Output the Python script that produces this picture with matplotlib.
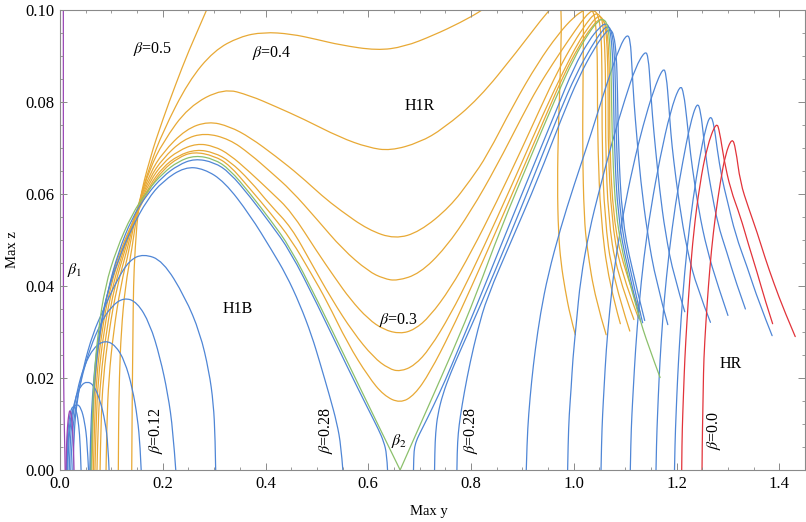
import matplotlib
matplotlib.use('Agg')
import matplotlib.pyplot as plt
from matplotlib.path import Path
from matplotlib.patches import PathPatch
from matplotlib.ticker import MultipleLocator, FormatStrFormatter

plt.rcParams['font.family'] = ['Liberation Serif', 'DejaVu Serif']
plt.rcParams['mathtext.fontset'] = 'stix'

# ---------------- data ----------------
x_ticks = [0.0, 0.2, 0.4, 0.6, 0.8, 1.0, 1.2, 1.4]
y_ticks = [0.00, 0.02, 0.04, 0.06, 0.08, 0.10]

purple_line = [(0.0065, 0.1), (0.0065, 0.06), (0.0067, 0.03), (0.0072, 0.018), (0.0082, 0.01), (0.0095, 0.004), (0.0100, 0.0)]
purple_arch = [(0.0115, 0.0), (0.0125, 0.005), (0.0145, 0.0095), (0.0172, 0.0123), (0.0195, 0.0131), (0.0222, 0.0120), (0.0248, 0.0085), (0.0265, 0.0045), (0.0273, 0.0)]

blue_b1 = [(0.0125, 0), (0.0135, 0.005), (0.016, 0.0095), (0.0205, 0.013), (0.0265, 0.014), (0.032, 0.013), (0.0365, 0.0098), (0.0395, 0.0055), (0.041, 0)]
blue_b1b = [(0.0135, 0), (0.015, 0.0055), (0.019, 0.0104), (0.025, 0.0135), (0.033, 0.0144), (0.041, 0.0135), (0.048, 0.0105), (0.053, 0.006), (0.0555, 0)]
blue_b2 = [(0.015, 0), (0.0165, 0.006), (0.021, 0.0105), (0.029, 0.0154), (0.040, 0.0184), (0.0532, 0.0193), (0.066, 0.0184), (0.078, 0.0152), (0.088, 0.0105), (0.0935, 0.0055), (0.0955, 0)]
blue_b3 = [(0.018, 0), (0.0195, 0.006), (0.024, 0.0112), (0.033, 0.0172), (0.047, 0.0227), (0.066, 0.0267), (0.0876, 0.0282), (0.108, 0.0271), (0.126, 0.0237), (0.141, 0.0178), (0.151, 0.0112), (0.156, 0.0052), (0.158, 0)]
blue_b4 = [(0.021, 0), (0.023, 0.007), (0.029, 0.0128), (0.04, 0.0192), (0.058, 0.0264), (0.08, 0.0321), (0.1, 0.0356), (0.1246, 0.0375), (0.15, 0.0365), (0.175, 0.0318), (0.1947, 0.0245), (0.21, 0.0165), (0.22, 0.0085), (0.2253, 0)]
blue_b5 = [(0.025, 0), (0.027, 0.008), (0.033, 0.015), (0.045, 0.0222), (0.064, 0.0297), (0.0843, 0.0348), (0.11, 0.0411), (0.135, 0.0456), (0.1623, 0.047), (0.2, 0.0455), (0.2434, 0.0376), (0.2726, 0.0298), (0.29, 0.0215), (0.2986, 0.0145), (0.302, 0.007), (0.303, 0)]
blue_b028 = [(0.058, 0), (0.0595, 0.008), (0.063, 0.016), (0.069, 0.024), (0.078, 0.031), (0.09, 0.0378), (0.1136, 0.0458), (0.14, 0.0527), (0.17, 0.0588), (0.2, 0.0628), (0.243, 0.0659), (0.28, 0.0655), (0.32, 0.0627), (0.37, 0.0554), (0.412, 0.0478), (0.44, 0.0425), (0.467, 0.036), (0.49, 0.0292), (0.506, 0.0233), (0.525, 0.016), (0.539, 0.0102), (0.547, 0.0052), (0.5505, 0)]
blue_under = [(0.0595, 0), (0.061, 0.008), (0.065, 0.016), (0.071, 0.024), (0.08, 0.0315), (0.093, 0.039), (0.113, 0.0472), (0.14, 0.0548), (0.17, 0.0600), (0.2, 0.0638), (0.23, 0.0663), (0.262, 0.0677), (0.3, 0.0669), (0.33, 0.0647), (0.37, 0.0594), (0.41, 0.0535), (0.448, 0.0476), (0.5, 0.0362), (0.56, 0.0222), (0.6, 0.0132), (0.62, 0.0088), (0.63, 0.0062), (0.636, 0.0035), (0.6375, 0)]

blue_r1 = [(0.688, 0), (0.6885, 0.003), (0.690, 0.005), (0.695, 0.0068), (0.705, 0.009), (0.725, 0.0135), (0.75, 0.0195), (0.775, 0.0262), (0.81, 0.0355), (0.86, 0.0493), (0.91, 0.063), (0.967, 0.0785), (1.0, 0.0875), (1.03, 0.0935), (1.05, 0.0962), (1.062, 0.0972), (1.07, 0.0962), (1.075, 0.0915), (1.077, 0.085), (1.079, 0.0698), (1.086, 0.055), (1.103, 0.0445), (1.13, 0.0323)]
blue_r2 = [(0.729, 0), (0.7295, 0.004), (0.731, 0.008), (0.735, 0.012), (0.745, 0.0165), (0.76, 0.021), (0.78, 0.0262), (0.82, 0.0362), (0.87, 0.0495), (0.92, 0.0632), (0.971, 0.0775), (1.005, 0.0862), (1.035, 0.0922), (1.055, 0.0955), (1.066, 0.0966), (1.074, 0.0955), (1.079, 0.0908), (1.081, 0.084), (1.083, 0.0698), (1.09, 0.055), (1.107, 0.0445), (1.134, 0.032)]
blue_r3 = [(0.7725, 0), (0.773, 0.004), (0.775, 0.008), (0.779, 0.0116), (0.787, 0.017), (0.798, 0.0233), (0.813, 0.0305), (0.831, 0.0375), (0.88, 0.0502), (0.93, 0.0632), (0.978, 0.077), (1.01, 0.0855), (1.04, 0.0917), (1.06, 0.0949), (1.07, 0.0959), (1.078, 0.0948), (1.083, 0.09), (1.085, 0.083), (1.087, 0.0698), (1.094, 0.055), (1.111, 0.0445), (1.138, 0.0325)]
blue_s1 = [(0.9075, 0), (0.909, 0.006), (0.912, 0.012), (0.918, 0.0195), (0.925, 0.0262), (0.935, 0.034), (0.95, 0.0425), (0.974, 0.0525), (1.0, 0.0618), (1.035, 0.0735), (1.065, 0.0843), (1.09, 0.0922), (1.104, 0.0948), (1.11, 0.0935), (1.113, 0.088), (1.117, 0.08), (1.123, 0.072), (1.13, 0.063), (1.143, 0.0516), (1.16, 0.041), (1.183, 0.0316)]
blue_s2 = [(0.988, 0), (0.989, 0.006), (0.991, 0.012), (0.995, 0.018), (0.998, 0.024), (1.005, 0.032), (1.013, 0.0414), (1.03, 0.052), (1.05, 0.061), (1.075, 0.0715), (1.1, 0.0808), (1.12, 0.0875), (1.139, 0.0912), (1.145, 0.0898), (1.149, 0.0836), (1.153, 0.077), (1.159, 0.0698), (1.167, 0.061), (1.178, 0.0516), (1.195, 0.042), (1.216, 0.0344)]
blue_s3 = [(1.053, 0), (1.054, 0.006), (1.056, 0.012), (1.059, 0.018), (1.063, 0.026), (1.07, 0.035), (1.08, 0.045), (1.095, 0.055), (1.115, 0.066), (1.135, 0.075), (1.155, 0.0825), (1.174, 0.0876), (1.18, 0.086), (1.185, 0.0792), (1.189, 0.073), (1.194, 0.0676), (1.205, 0.058), (1.22, 0.048), (1.24, 0.0395), (1.266, 0.0321)]
blue_s4 = [(1.11, 0), (1.111, 0.006), (1.113, 0.012), (1.116, 0.018), (1.12, 0.026), (1.127, 0.036), (1.136, 0.046), (1.15, 0.057), (1.168, 0.068), (1.188, 0.078), (1.207, 0.0839), (1.214, 0.082), (1.22, 0.0763), (1.225, 0.071), (1.23, 0.0662), (1.243, 0.0565), (1.259, 0.048), (1.28, 0.0402), (1.300, 0.0336)]
blue_s5 = [(1.16, 0), (1.161, 0.006), (1.163, 0.012), (1.166, 0.02), (1.17, 0.028), (1.176, 0.037), (1.185, 0.047), (1.198, 0.058), (1.212, 0.067), (1.226, 0.075), (1.24, 0.0801), (1.247, 0.078), (1.253, 0.072), (1.259, 0.0665), (1.266, 0.0618), (1.28, 0.0535), (1.298, 0.0473), (1.315, 0.041), (1.334, 0.035)]
blue_s6 = [(1.196, 0), (1.197, 0.006), (1.199, 0.012), (1.202, 0.02), (1.206, 0.028), (1.212, 0.038), (1.22, 0.048), (1.232, 0.059), (1.245, 0.068), (1.256, 0.074), (1.266, 0.0773), (1.273, 0.075), (1.279, 0.0698), (1.288, 0.0635), (1.298, 0.0589), (1.315, 0.051), (1.337, 0.0443), (1.36, 0.0365), (1.386, 0.0292)]

red_1 = [(1.21, 0), (1.2105, 0.006), (1.212, 0.012), (1.214, 0.018), (1.216, 0.024), (1.22, 0.032), (1.226, 0.042), (1.233, 0.0516), (1.245, 0.062), (1.259, 0.0702), (1.2775, 0.0758), (1.284, 0.0735), (1.292, 0.0676), (1.305, 0.061), (1.324, 0.0552), (1.34, 0.049), (1.357, 0.0429), (1.372, 0.037), (1.387, 0.0318)]
red_2 = [(1.2496, 0), (1.25, 0.006), (1.251, 0.012), (1.252, 0.018), (1.253, 0.024), (1.257, 0.032), (1.262, 0.04), (1.268, 0.048), (1.2755, 0.0552), (1.285, 0.0625), (1.295, 0.0686), (1.308, 0.0723), (1.315, 0.07), (1.324, 0.0625), (1.34, 0.057), (1.357, 0.0516), (1.372, 0.0462), (1.389, 0.0407), (1.41, 0.0345), (1.431, 0.029)]

# green (beta_2) curve, left and right of its V-shaped tip at (0.662, 0)
green_left = [(0.0605, 0), (0.0625, 0.01), (0.066, 0.02), (0.074, 0.03), (0.088, 0.04), (0.11, 0.048), (0.14, 0.0556), (0.17, 0.0607), (0.2, 0.0645), (0.23, 0.0671), (0.263, 0.0684), (0.3, 0.0676), (0.33, 0.0654), (0.37, 0.0601), (0.41, 0.0543), (0.448, 0.0484), (0.5, 0.0371), (0.562, 0.0229), (0.62, 0.0096), (0.662, 0.0)]
green_right = [(0.662, 0.0), (0.70, 0.0096), (0.766, 0.0262), (0.81, 0.0381), (0.857, 0.0523), (0.917, 0.0683), (0.964, 0.0807), (1.0, 0.0895), (1.03, 0.0952), (1.048, 0.0977), (1.058, 0.0981), (1.066, 0.0968), (1.071, 0.092), (1.073, 0.085), (1.075, 0.0698), (1.082, 0.055), (1.1, 0.0445), (1.125, 0.034), (1.145, 0.027), (1.168, 0.0201)]

orange_c1 = [(0.1396, 0), (0.1402, 0.01), (0.141, 0.02), (0.142, 0.03), (0.143, 0.04), (0.146, 0.048), (0.153, 0.058), (0.175, 0.0678), (0.2, 0.0762), (0.225, 0.0838), (0.25, 0.091), (0.2857, 0.1), (0.3, 0.104)]
orange_c2 = [(0.1135, 0), (0.114, 0.01), (0.1155, 0.02), (0.119, 0.03), (0.127, 0.04), (0.14, 0.048), (0.152, 0.0575), (0.175, 0.0662), (0.2, 0.0735), (0.25, 0.0845), (0.3, 0.0912), (0.35, 0.0942), (0.396, 0.0952), (0.45, 0.0948), (0.5, 0.0936), (0.545, 0.0924), (0.617, 0.0912), (0.67, 0.0920), (0.727, 0.0945), (0.78, 0.0973), (0.823, 0.1), (0.9, 0.106), (0.95, 0.106), (0.972, 0.103), (0.976, 0.1), (0.975, 0.09), (0.97, 0.075), (0.968, 0.062), (0.970, 0.0516), (0.975, 0.045), (0.983, 0.0393), (0.993, 0.0335), (1.003, 0.0294)]
orange_c3 = [(0.0896, 0), (0.091, 0.01), (0.095, 0.02), (0.104, 0.03), (0.118, 0.04), (0.135, 0.048), (0.15, 0.0572), (0.175, 0.0655), (0.2, 0.0712), (0.25, 0.079), (0.318, 0.083), (0.37, 0.0814), (0.42, 0.079), (0.474, 0.0763), (0.545, 0.0723), (0.6, 0.0701), (0.643, 0.0694), (0.70, 0.0712), (0.746, 0.0742), (0.815, 0.0807), (0.889, 0.0909), (0.951, 0.1), (0.99, 0.1045), (1.01, 0.104), (1.018, 0.1015), (1.019, 0.098), (1.018, 0.085), (1.017, 0.0698), (1.02, 0.055), (1.026, 0.048), (1.042, 0.0371), (1.063, 0.0294)]
orange_c4 = [(0.078, 0), (0.0795, 0.01), (0.084, 0.02), (0.095, 0.03), (0.111, 0.04), (0.131, 0.048), (0.15, 0.057), (0.175, 0.0645), (0.2, 0.069), (0.245, 0.0741), (0.289, 0.0758), (0.33, 0.0747), (0.37, 0.0723), (0.42, 0.0682), (0.467, 0.064), (0.51, 0.0596), (0.545, 0.0565), (0.6, 0.0522), (0.652, 0.0502), (0.70, 0.0518), (0.759, 0.0572), (0.8, 0.0632), (0.831, 0.0683), (0.883, 0.0795), (0.93, 0.0885), (0.97, 0.0948), (1.0, 0.0985), (1.02, 0.1), (1.03, 0.1005), (1.038, 0.0998), (1.043, 0.097), (1.046, 0.09), (1.046, 0.08), (1.047, 0.0698), (1.052, 0.0552), (1.068, 0.0407), (1.0906, 0.0318)]
orange_c5 = [(0.072, 0), (0.074, 0.01), (0.079, 0.02), (0.09, 0.03), (0.106, 0.04), (0.127, 0.048), (0.15, 0.0568), (0.175, 0.0636), (0.2, 0.0677), (0.24, 0.0719), (0.282, 0.0733), (0.33, 0.0719), (0.37, 0.0687), (0.41, 0.0648), (0.45, 0.0608), (0.5, 0.0545), (0.55, 0.0480), (0.6, 0.0432), (0.63, 0.0416), (0.656, 0.0411), (0.70, 0.0427), (0.75, 0.0482), (0.8, 0.0563), (0.85, 0.0661), (0.9, 0.077), (0.93, 0.0832), (0.96, 0.0885), (0.99, 0.0935), (1.015, 0.0975), (1.03, 0.0995), (1.04, 0.1), (1.048, 0.0988), (1.053, 0.095), (1.055, 0.088), (1.055, 0.0698), (1.06, 0.055), (1.075, 0.042), (1.109, 0.0302)]
orange_c6 = [(0.068, 0), (0.07, 0.01), (0.0745, 0.02), (0.085, 0.03), (0.102, 0.04), (0.124, 0.048), (0.15, 0.0565), (0.175, 0.0628), (0.2, 0.0667), (0.23, 0.0694), (0.266, 0.071), (0.3, 0.0704), (0.33, 0.0686), (0.37, 0.0647), (0.41, 0.0605), (0.45, 0.0562), (0.5, 0.0475), (0.535, 0.0418), (0.565, 0.0371), (0.6, 0.0328), (0.63, 0.0305), (0.662, 0.0296), (0.69, 0.0305), (0.72, 0.0334), (0.76, 0.0395), (0.8, 0.0473), (0.85, 0.0583), (0.9, 0.0701), (0.935, 0.0787), (0.97, 0.087), (1.0, 0.093), (1.025, 0.0972), (1.04, 0.0992), (1.05, 0.0991), (1.057, 0.0972), (1.061, 0.091), (1.062, 0.08), (1.062, 0.0698), (1.067, 0.055), (1.083, 0.043), (1.117, 0.0327)]
orange_c7 = [(0.065, 0), (0.067, 0.01), (0.071, 0.02), (0.081, 0.03), (0.098, 0.04), (0.121, 0.048), (0.15, 0.0563), (0.175, 0.062), (0.2, 0.0658), (0.23, 0.0684), (0.266, 0.0697), (0.3, 0.069), (0.33, 0.0672), (0.37, 0.0629), (0.41, 0.0575), (0.45, 0.0528), (0.49, 0.0448), (0.529, 0.0371), (0.57, 0.0300), (0.61, 0.0245), (0.64, 0.022), (0.662, 0.0214), (0.69, 0.0227), (0.72, 0.0264), (0.76, 0.0338), (0.8, 0.0426), (0.85, 0.0546), (0.9, 0.0671), (0.94, 0.0773), (0.98, 0.0868), (1.01, 0.0932), (1.03, 0.0965), (1.045, 0.0986), (1.055, 0.0985), (1.062, 0.0965), (1.066, 0.09), (1.067, 0.08), (1.067, 0.0698), (1.073, 0.055), (1.09, 0.0435), (1.126, 0.033)]
orange_c8 = [(0.062, 0), (0.064, 0.01), (0.068, 0.02), (0.078, 0.03), (0.095, 0.04), (0.118, 0.048), (0.15, 0.056), (0.175, 0.0614), (0.2, 0.0652), (0.23, 0.0679), (0.26, 0.0692), (0.3, 0.0683), (0.33, 0.0663), (0.37, 0.0611), (0.41, 0.0558), (0.45, 0.0501), (0.49, 0.0425), (0.519, 0.0368), (0.56, 0.0275), (0.6, 0.0203), (0.63, 0.0162), (0.662, 0.0145), (0.69, 0.0163), (0.72, 0.0212), (0.76, 0.0299), (0.8, 0.0396), (0.85, 0.0522), (0.9, 0.0652), (0.95, 0.0782), (0.98, 0.0858), (1.01, 0.0922), (1.035, 0.0964), (1.05, 0.0981), (1.058, 0.0979), (1.065, 0.0957), (1.069, 0.089), (1.07, 0.08), (1.07, 0.0698), (1.077, 0.055), (1.095, 0.0445), (1.13, 0.034)]

# annotations: text, x, y, rotation
labels = [
    (r'$\beta$=0.5', 0.181, 0.0916, 0),
    (r'$\beta$=0.4', 0.413, 0.0906, 0),
    ('H1R', 0.700, 0.0792, 0),
    ('H1B', 0.346, 0.0349, 0),
    (r'$\beta$=0.3', 0.659, 0.0327, 0),
    (r'$\beta_1$', 0.0285, 0.0434, 0),
    (r'$\beta_2$', 0.660, 0.0063, 0),
    (r'$\beta$=0.12', 0.186, 0.0085, 90),
    (r'$\beta$=0.28', 0.518, 0.0087, 90),
    (r'$\beta$=0.28', 0.800, 0.0087, 90),
    (r'$\beta$=0.0', 1.272, 0.0085, 90),
    ('HR', 1.305, 0.0231, 0),
]

BLUE = '#4F86D6'
ORANGE = '#E8A935'
GREEN = '#8CC06C'
RED = '#E2333A'
PURPLE = '#9A48B5'

blue_curves = [blue_b1, blue_b1b, blue_b2, blue_b3, blue_b4, blue_b5, blue_b028, blue_under,
               blue_r1, blue_r2, blue_r3, blue_s1, blue_s2, blue_s3, blue_s4, blue_s5, blue_s6]
orange_curves = [orange_c1, orange_c2, orange_c3, orange_c4, orange_c5, orange_c6, orange_c7, orange_c8]
green_curves = [green_left, green_right]
red_curves = [red_1, red_2]
purple_curves = [purple_line, purple_arch]

# ---------------- figure ----------------
fig = plt.figure(figsize=(8.06, 5.22), dpi=100)
ax = fig.add_axes([60 / 806, 1 - 470 / 522, 745 / 806, 460 / 522])


def draw(pts, color):
    """Smooth path through the read points (quadratic Bezier via midpoints)."""
    verts = [pts[0]]
    codes = [Path.MOVETO]
    n = len(pts)
    for i in range(1, n - 1):
        if i == n - 2:
            end = pts[-1]
        else:
            end = ((pts[i][0] + pts[i + 1][0]) / 2, (pts[i][1] + pts[i + 1][1]) / 2)
        verts += [pts[i], end]
        codes += [Path.CURVE3, Path.CURVE3]
    patch = PathPatch(Path(verts, codes), facecolor='none', edgecolor=color,
                      lw=0.9, capstyle='round', joinstyle='round')
    ax.add_patch(patch)


for c in orange_curves:
    draw(c, ORANGE)
for c in blue_curves:
    draw(c, BLUE)
for c in green_curves:
    draw(c, GREEN)
for c in red_curves:
    draw(c, RED)
for c in purple_curves:
    draw(c, PURPLE)

for txt, x, y, rot in labels:
    ax.text(x, y, txt, rotation=rot, ha='center', va='center', fontsize=11.5, color='black')

ax.set_xlim(0, 1.45)
ax.set_ylim(0, 0.1)
ax.set_xticks(x_ticks)
ax.set_yticks(y_ticks)
ax.xaxis.set_major_formatter(FormatStrFormatter('%.1f'))
ax.yaxis.set_major_formatter(FormatStrFormatter('%.2f'))
ax.xaxis.set_minor_locator(MultipleLocator(0.05))
ax.yaxis.set_minor_locator(MultipleLocator(0.005))
ax.tick_params(which='both', direction='in', top=True, right=True, color='#8a8a8a',
               labelsize=12, labelcolor='black')
ax.tick_params(which='major', length=5, width=0.7, pad=4)
ax.tick_params(which='minor', length=2.5, width=0.6)
for s in ax.spines.values():
    s.set_color('#8a8a8a')
    s.set_linewidth(0.8)

fig.text(429 / 806, 1 - 511 / 522, 'Max y', ha='center', va='center', fontsize=10.5)
fig.text(13 / 806, 1 - 250 / 522, 'Max z', ha='center', va='center', rotation=90, fontsize=10.5)

fig.savefig('out.png', dpi=100)
